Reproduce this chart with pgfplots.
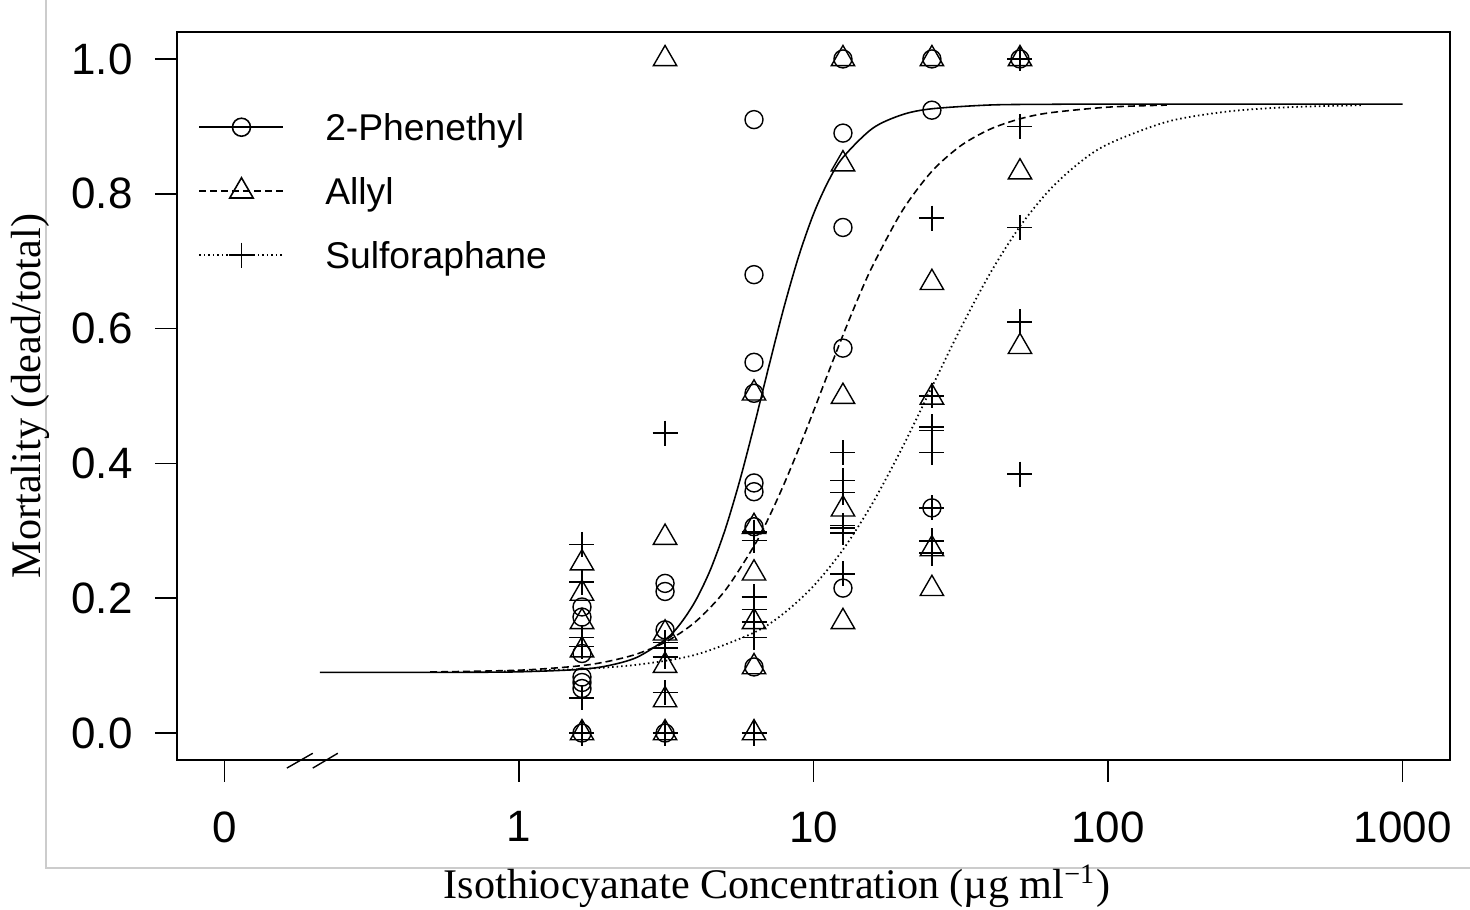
\documentclass[border=0pt]{standalone}
\usepackage{fontspec}
\setmainfont{Liberation Serif}
\setsansfont{Liberation Sans}
\usepackage{pgfplots}
\usepackage{pgfplotstable}
\pgfplotsset{compat=1.18}

% x values are log10(concentration); tick "0" stands at -1
\pgfplotstableread{
x y
-0.676 0.0900
-0.2 0.0901
0.0 0.0908
0.2 0.0942
0.3 0.0997
0.4 0.1122
0.5 0.1397
0.55 0.1633
0.6 0.1967
0.65 0.2423
0.7 0.3018
0.75 0.3750
0.8 0.4587
0.85 0.5468
0.9 0.6320
0.95 0.7076
1.0 0.7700
1.05 0.8183
1.1 0.8539
1.2 0.8969
1.3 0.9171
1.4 0.9260
1.6 0.9317
1.8 0.9327
2.0 0.9330
3.0 0.9330
}\curvePhen
\pgfplotstableread{
x y
-0.302 0.0906
0.0 0.0932
0.2 0.0994
0.3 0.1061
0.4 0.1172
0.5 0.1356
0.6 0.1653
0.7 0.2115
0.8 0.2789
0.85 0.3213
0.9 0.3694
0.95 0.4219
1.0 0.4774
1.05 0.5343
1.1 0.5902
1.15 0.6435
1.2 0.6924
1.3 0.7738
1.4 0.8324
1.5 0.8713
1.6 0.8959
1.7 0.9110
1.8 0.9200
2.0 0.9285
2.2 0.9315
}\curveAllyl
\pgfplotstableread{
x y
-0.05 0.0917
0.2 0.0948
0.4 0.1013
0.6 0.1162
0.8 0.1494
0.9 0.1779
1.0 0.2181
1.1 0.2720
1.2 0.3407
1.3 0.4222
1.4 0.5115
1.5 0.6008
1.6 0.6823
1.7 0.7510
1.8 0.8050
1.9 0.8451
2.0 0.8737
2.2 0.9068
2.4 0.9217
2.6 0.9282
2.86 0.9314
}\curveSulf

\pgfplotstableread{
x y
0.214 0.0
0.214 0.066
0.214 0.075
0.214 0.083
0.214 0.118
0.214 0.172
0.214 0.187
0.496 0.0
0.496 0.153
0.496 0.210
0.496 0.222
0.798 0.098
0.798 0.306
0.798 0.358
0.798 0.371
0.798 0.504
0.798 0.550
0.798 0.680
0.798 0.910
1.100 0.215
1.100 0.571
1.100 0.750
1.100 0.890
1.100 1.0
1.402 0.334
1.402 0.924
1.402 1.0
1.701 1.0
}\ptsPhen
\pgfplotstableread{
x y
0.214 0.0
0.214 0.123
0.214 0.165
0.214 0.207
0.214 0.252
0.496 0.0
0.496 0.049
0.496 0.100
0.496 0.148
0.496 0.290
0.496 1.0
0.798 0.0
0.798 0.098
0.798 0.165
0.798 0.237
0.798 0.306
0.798 0.504
1.100 0.165
1.100 0.332
1.100 0.499
1.100 0.844
1.100 1.0
1.402 0.214
1.402 0.273
1.402 0.498
1.402 0.668
1.402 1.0
1.701 0.573
1.701 0.832
1.701 1.0
}\ptsAllyl
\pgfplotstableread{
x y
0.214 0.0
0.214 0.052
0.214 0.128
0.214 0.142
0.214 0.224
0.214 0.280
0.496 0.0
0.496 0.060
0.496 0.113
0.496 0.126
0.496 0.134
0.496 0.445
0.798 0.0
0.798 0.142
0.798 0.165
0.798 0.183
0.798 0.202
0.798 0.286
0.798 0.298
1.100 0.236
1.100 0.297
1.100 0.304
1.100 0.308
1.100 0.357
1.100 0.375
1.100 0.416
1.402 0.267
1.402 0.285
1.402 0.334
1.402 0.416
1.402 0.449
1.402 0.454
1.402 0.500
1.402 0.764
1.701 0.384
1.701 0.610
1.701 0.750
1.701 0.900
1.701 1.0
}\ptsSulf

\begin{document}
\begin{tikzpicture}[x=1cm,y=1cm]
\useasboundingbox (-1.77,-1.50) rectangle (12.93,7.60);
\draw[black!20, line width=0.4pt] (-1.31,7.60) -- (-1.31,-1.08) -- (12.93,-1.08);
\begin{axis}[
  at={(0,0)}, anchor=south west,
  scale only axis, width=12.73cm, height=7.28cm,
  xmin=-1.161, xmax=3.161, ymin=-0.04, ymax=1.04,
  xtick={-1,0,1,2,3}, xticklabels={0,1,10,100,1000},
  ytick={0,0.2,0.4,0.6,0.8,1.0}, yticklabels={0.0,0.2,0.4,0.6,0.8,1.0},
  tick align=outside, major tick length=0.22cm,
  tick style={black, line width=0.5pt},
  axis line style={line width=0.6pt},
  xtick pos=bottom, ytick pos=left,
  ticklabel style={font=\sffamily\fontsize{12.5}{14}\selectfont},
  xticklabel style={yshift=-0.17cm},
  yticklabel style={xshift=-0.1cm},
  xlabel={Isothiocyanate Concentration (µg ml\textsuperscript{−1})},
  ylabel={Mortality (dead/total)},
  label style={font=\fontsize{12}{14}\selectfont},
  xlabel style={at={(axis description cs:0.4713,-0.173)}, anchor=center},
  ylabel style={at={(axis description cs:-0.1155,0.5)}, anchor=center},
  clip=false,
  legend style={at={(axis description cs:0.0165,0.8935)}, anchor=north west,
    draw=none, fill=none, font=\sffamily\fontsize{10.6}{12}\selectfont,
    row sep=0.26cm, inner sep=0pt,
    nodes={inner sep=0pt, text height=0.3cm, text depth=0.08cm},
    /tikz/every odd column/.append style={column sep=0.41cm}},
  legend cell align=left,
  legend image code/.code={\draw[mark repeat=2, mark phase=2, #1] plot coordinates {(0cm,0.02cm) (0.42cm,0.02cm) (0.84cm,0.02cm)};},
]
\addlegendimage{solid, line width=0.45pt, mark=o, mark size=0.9mm, mark options={solid}}
\addlegendentry{2-Phenethyl}
\addlegendimage{dash pattern=on 0.7mm off 0.4mm, line width=0.45pt, mark=triangle, mark size=1.35mm, mark options={solid}}
\addlegendentry{Allyl}
\addlegendimage{dash pattern=on 0.15mm off 0.3mm, line width=0.45pt, mark=+, mark size=1.25mm, mark options={solid}}
\addlegendentry{Sulforaphane}

\addplot[solid, line width=0.45pt, smooth, forget plot] table {\curvePhen};
\addplot[dash pattern=on 0.7mm off 0.4mm, line width=0.45pt, smooth, forget plot] table {\curveAllyl};
\addplot[dash pattern=on 0.15mm off 0.3mm, line width=0.5pt, smooth, forget plot] table {\curveSulf};

\addplot[only marks, mark=o, mark size=0.9mm, line width=0.4pt, forget plot] table {\ptsPhen};
\addplot[only marks, mark=triangle, mark size=1.35mm, line width=0.4pt, forget plot] table {\ptsAllyl};
\addplot[only marks, mark=+, mark size=1.25mm, line width=0.4pt, forget plot] table {\ptsSulf};

\draw[line width=0.4pt] (axis cs:-0.788,-0.052) -- (axis cs:-0.700,-0.030);
\draw[line width=0.4pt] (axis cs:-0.700,-0.052) -- (axis cs:-0.615,-0.030);
\end{axis}
\end{tikzpicture}
\end{document}
